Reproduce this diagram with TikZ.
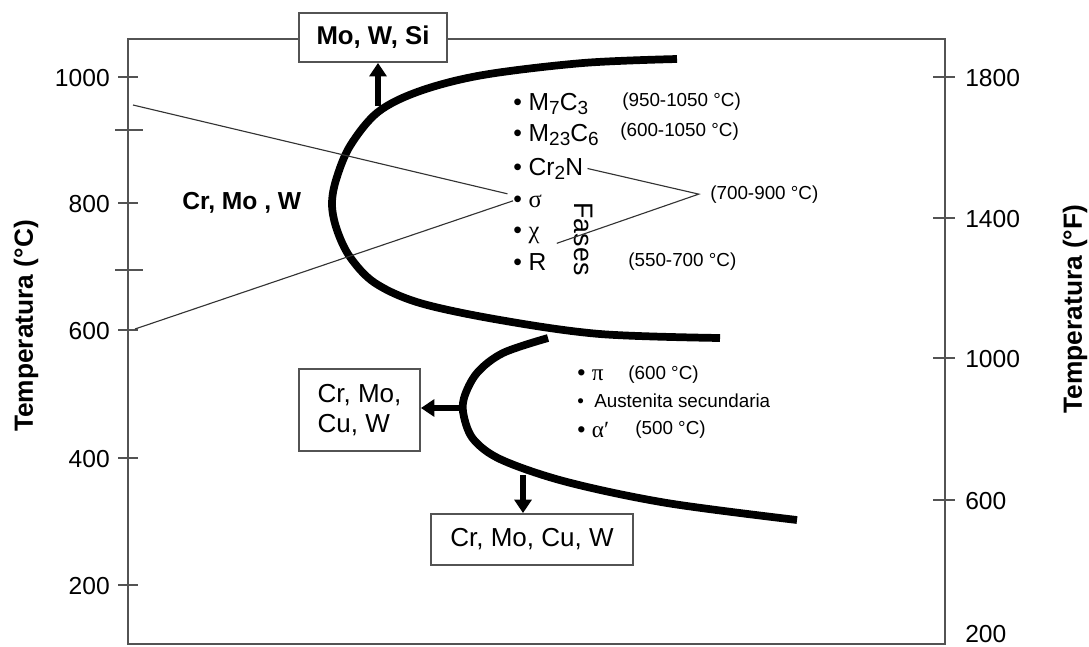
\documentclass[tikz,border=0pt]{standalone}
\usepackage{fontspec}
\setmainfont{Liberation Sans}
\newfontfamily\greekfont{Liberation Serif}
\newcommand{\lowsub}[1]{\raisebox{-0.32ex}{\fontsize{13.5}{14}\selectfont #1}}
\usetikzlibrary{arrows.meta}
\usetikzlibrary{positioning}

\begin{document}
\begin{tikzpicture}[x=0.025cm, y=-0.025cm,
	frame/.style={line width=1.4pt, gray!65!black},
	elbox/.style={draw=gray!65!black, line width=1.3pt, fill=white, inner sep=0pt},
	push/.style={line width=4pt, -{Triangle[width=12pt,length=9.5pt]}},
	guide/.style={line width=0.8pt, black!80},
	curve/.style={line width=5.5pt, smooth, tension=0.55},
	tlabel/.style={inner sep=0pt, font=\fontsize{17.5}{20}\selectfont},
	ttitle/.style={inner sep=0pt, rotate=90, font=\bfseries\fontsize{18.7}{20}\selectfont},
	phase/.style={anchor=base west, inner sep=0pt, font=\fontsize{17.5}{20}\selectfont},
	tempspan/.style={anchor=base west, inner sep=0pt, font=\fontsize{13.4}{16}\selectfont}]
	\useasboundingbox (0,0) rectangle (1089,646);
	\clip (0,0) rectangle (1089,646);
	\draw[frame] (128,39) rectangle (945,644);
	\foreach \t/\y in {1000/77, 800/203, 600/330, 400/458, 200/585} {
		\draw[frame] (118,\y) -- (138,\y);
		\node[tlabel, anchor=east] (lc\t) at (110,\y+1) {\t};
	}
	\draw[frame] (115,130) -- (143,130);
	\draw[frame] (115,270) -- (143,270);
	\foreach \t/\y in {1800/77, 1400/218, 1000/358, 600/500} {
		\draw[frame] (933,\y) -- (955,\y);
		\node[tlabel, anchor=west] (rf\t) at (965,\y+1) {\t};
	}
	\node[tlabel, anchor=west] (rf200) at (965,634) {200};
	\node[ttitle] (tc) at (26,326) {Temperatura (°C)};
	\node[ttitle] (tf) at (1075,309) {Temperatura (°F)};

	\draw[curve] plot coordinates {(677,59) (583,63) (483,75) (420,91) (378,112) (350,146) (336,180) (332,205) (337,230) (350,257) (375,283) (420,303) (500,320) (600,334) (720,338)};
	\draw[curve] plot coordinates {(548,338) (503,353) (477,373) (464,398) (464,417) (474,440) (502,460) (567,482) (667,503) (797,520)};

	\node[elbox, minimum width=3.7cm, minimum height=1.225cm, font=\bfseries\fontsize{18.3}{20}\selectfont] (mows) at (373,37.5) {Mo, W, Si};
	\node[anchor=west, inner sep=0pt, font=\bfseries\fontsize{17.5}{20}\selectfont] (crmow) at (182,203) {Cr, Mo , W};
	\node[elbox, minimum width=3.025cm, minimum height=2.05cm, align=left, font=\fontsize{18.5}{21.3}\selectfont] (cmcw) at (359.5,410) {Cr, Mo,\\Cu, W};
	\node[elbox, minimum width=5.05cm, minimum height=1.275cm, font=\fontsize{18.5}{20}\selectfont] (cmcwb) at (532,539.5) {Cr, Mo, Cu, W};

	\coordinate (upfoot) at (378,106);
	\coordinate (leftfoot) at (460,408);
	\coordinate (downfoot) at (523,475);
	\draw[push] (upfoot) -- (upfoot |- mows.south);
	\draw[push] (leftfoot) -- (leftfoot -| cmcw.east);
	\draw[push] (downfoot) -- (downfoot |- cmcwb.north);

	\node[phase] (mc7) at (513,110) {\textbullet\ M\lowsub{7}C\lowsub{3}};
	\node[phase] (mc23) at (513,141) {\textbullet\ M\lowsub{23}C\lowsub{6}};
	\node[phase] (crn) at (513,175) {\textbullet\ Cr\lowsub{2}N};
	\node[phase] (sig) at (513,207) {\textbullet\ {\greekfont σ}};
	\node[phase] (chi) at (513,238) {\textbullet\ {\greekfont χ}};
	\node[phase] (rph) at (513,270) {\textbullet\ R};
	\node[rotate=-90, inner sep=0pt, font=\fontsize{19}{20}\selectfont] (fases) at (584,239) {Fases};

	\node[tempspan] (r95) at (622,106) {(950-1050 °C)};
	\node[tempspan] (r60) at (620,136) {(600-1050 °C)};
	\node[tempspan] (r79) at (710,199) {(700-900 °C)};
	\node[tempspan] (r57) at (628,266) {(550-700 °C)};

	\coordinate (topfoot) at (133,105);
	\coordinate (botfoot) at (135,329);
	\draw[guide] (topfoot) -- ([xshift=-4pt,yshift=5pt]sig.west);
	\draw[guide] (botfoot) -- ([xshift=0pt,yshift=0pt]sig.west);
	\draw[guide] ([xshift=3pt]crn.east) -- ([xshift=-8pt]r79.west) -- ([xshift=12pt,yshift=-6pt]chi.east);

	\node[phase, font=\fontsize{16.5}{18}\selectfont] (piph) at (577,380) {\textbullet\ {\greekfont π}};
	\node[tempspan] (r6) at (628,379) {(600 °C)};
	\node[tempspan] (aus) at (577,407) {\textbullet\hspace{0.55em}Austenita secundaria};
	\node[phase, font=\fontsize{16.5}{18}\selectfont] (alph) at (577,437) {\textbullet\ {\greekfont α′}};
	\node[tempspan] (r5) at (635,434) {(500 °C)};
\end{tikzpicture}
\end{document}
